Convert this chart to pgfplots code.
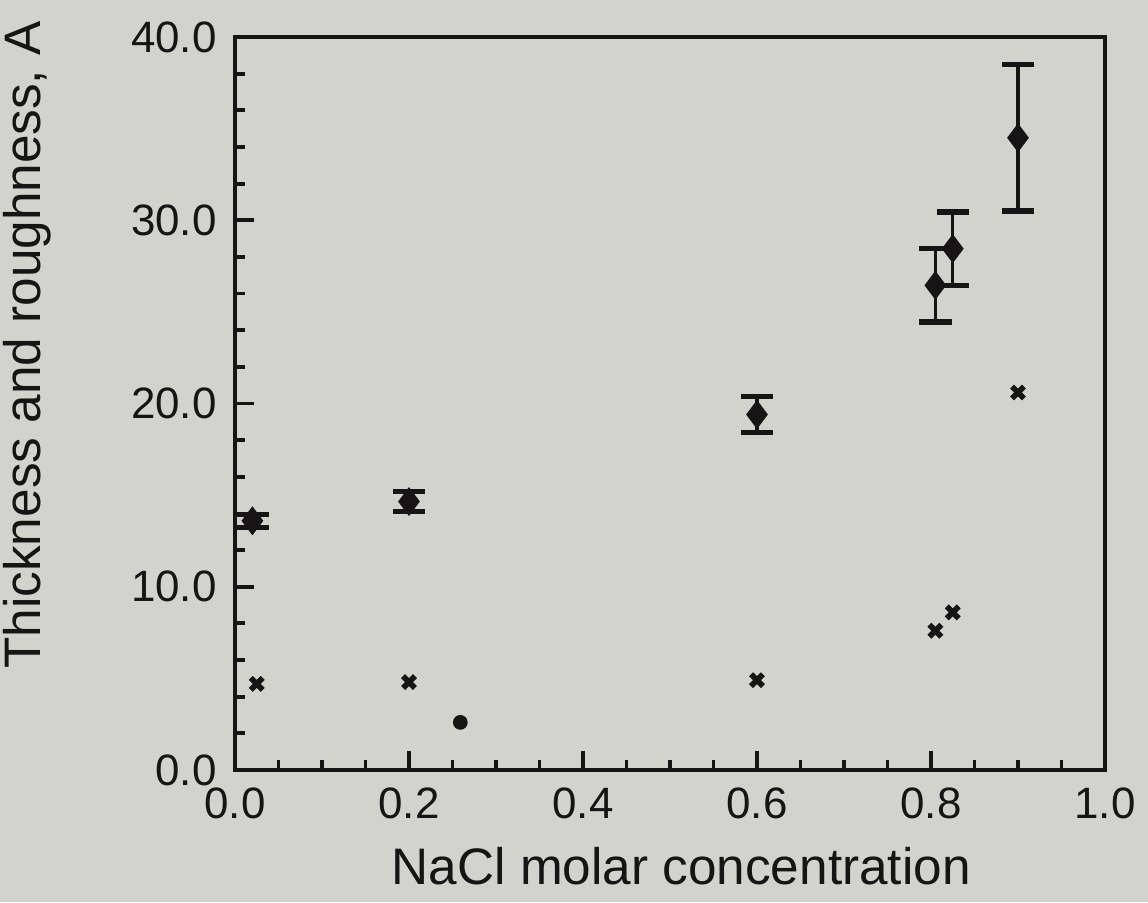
\documentclass[border=0pt]{standalone}
\usepackage{fontspec}
\setmainfont{Liberation Sans}
\usepackage{pgfplots}
\pgfplotsset{compat=1.18}
\definecolor{bg}{RGB}{210,211,205}
\definecolor{ink}{RGB}{22,20,20}
\begin{document}
\begin{tikzpicture}
\fill[bg, use as bounding box] (-23.5mm,-13.2mm) rectangle (91.3mm,77.0mm);
\begin{axis}[
  at={(0,0)}, anchor=south west,
  scale only axis, width=87mm, height=73.3mm,
  xmin=0, xmax=1.0, ymin=0, ymax=40,
  axis line style={line width=1.3pt, color=ink},
  xtick={0,0.2,0.4,0.6,0.8,1.0},
  ytick={0,10,20,30,40},
  minor x tick num=3, minor y tick num=4,
  xtick pos=bottom, ytick pos=left,
  tick align=inside,
  major tick length=1.9mm, minor tick length=1.0mm,
  tick style={line width=1.1pt, color=ink},
  /pgf/number format/.cd, fixed, fixed zerofill, precision=1, assume math mode=true,
  /pgfplots/.cd,
  ticklabel style={font=\fontsize{12.5}{14}\selectfont, color=ink},
  xticklabel style={yshift=-0.5mm},
  yticklabel style={xshift=-0.6mm},
  xlabel={NaCl molar concentration},
  ylabel={Thickness and roughness, A},
  label style={font=\fontsize{14.6}{17}\selectfont, color=ink},
  xlabel style={at={(axis description cs:0.513,-0.131)}, anchor=center},
  ylabel style={at={(axis description cs:-0.239,0.58)}, anchor=center},
]
\addplot[only marks, mark=diamond*, mark size=3.8pt, color=ink,
  error bars/.cd, y dir=both, y explicit,
  error bar style={line width=0.9pt, color=ink},
  error mark options={rotate=90, mark size=4.6pt, line width=1.5pt, color=ink}]
  coordinates {
  (0.02,13.6) +- (0,0.35)
  (0.2,14.65) +- (0,0.55)
  (0.6,19.4) +- (0,1.0)
  (0.805,26.45) +- (0,2.0)
  (0.825,28.45) +- (0,2.0)
  (0.9,34.5) +- (0,4.0)
};
\addplot[only marks, mark=x, mark size=2.4pt, line width=1.6pt, color=ink]
  coordinates {
  (0.025,4.7) (0.2,4.8) (0.6,4.9) (0.805,7.6) (0.825,8.6) (0.9,20.6)
};
\addplot[only marks, mark=*, mark size=1.9pt, color=ink]
  coordinates { (0.259,2.6) };
\end{axis}
\end{tikzpicture}
\end{document}
